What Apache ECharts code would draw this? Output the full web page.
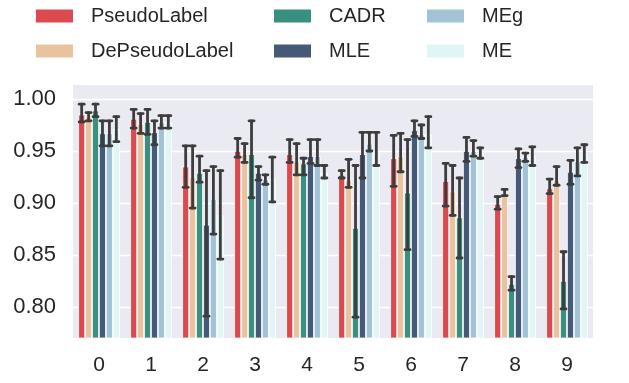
<!DOCTYPE html>
<html>
<head>
<meta charset="utf-8">
<script src="https://cdn.jsdelivr.net/npm/echarts@6/dist/echarts.min.js"></script>
<style>html,body{margin:0;padding:0;background:#fff}#c{width:629px;height:383px}</style>
</head>
<body>
<div id="c"></div>
<script>
const categories = ['0','1','2','3','4','5','6','7','8','9'];
const seriesNames = ['PseudoLabel','DePseudoLabel','CADR','MLE','MEg','ME'];
const colors = ['#DB4A4E','#E9C29F','#3A9080','#455A78','#A2C3D5','#E0F6F5'];

const pseudoLabel   = [0.985, 0.981, 0.935, 0.950, 0.947, 0.927, 0.943, 0.921, 0.899, 0.914];
const pseudoLabelLo = [0.978, 0.972, 0.915, 0.944, 0.939, 0.924, 0.916, 0.897, 0.894, 0.909];
const pseudoLabelHi = [0.995, 0.990, 0.955, 0.962, 0.961, 0.931, 0.965, 0.938, 0.906, 0.923];

const dePseudoLabel   = [0.983, 0.976, 0.925, 0.947, 0.940, 0.922, 0.945, 0.911, 0.909, 0.922];
const dePseudoLabelLo = [0.979, 0.967, 0.895, 0.939, 0.927, 0.915, 0.930, 0.888, 0.907, 0.917];
const dePseudoLabelHi = [0.987, 0.986, 0.955, 0.957, 0.957, 0.942, 0.967, 0.936, 0.913, 0.935];

const cadr   = [0.989, 0.978, 0.929, 0.947, 0.938, 0.876, 0.910, 0.886, 0.822, 0.825];
const cadrLo = [0.983, 0.966, 0.920, 0.905, 0.927, 0.790, 0.855, 0.847, 0.816, 0.798];
const cadrHi = [0.995, 0.990, 0.945, 0.979, 0.943, 0.936, 0.961, 0.924, 0.829, 0.853];

const mle   = [0.967, 0.968, 0.879, 0.929, 0.945, 0.947, 0.970, 0.950, 0.943, 0.930];
const mleLo = [0.955, 0.956, 0.791, 0.922, 0.938, 0.924, 0.964, 0.940, 0.934, 0.918];
const mleHi = [0.979, 0.979, 0.931, 0.935, 0.961, 0.968, 0.979, 0.963, 0.952, 0.941];

const meg   = [0.967, 0.978, 0.904, 0.923, 0.945, 0.957, 0.966, 0.950, 0.944, 0.940];
const megLo = [0.955, 0.972, 0.870, 0.918, 0.936, 0.950, 0.962, 0.945, 0.940, 0.926];
const megHi = [0.979, 0.984, 0.935, 0.927, 0.961, 0.968, 0.975, 0.960, 0.948, 0.953];

const me   = [0.971, 0.978, 0.888, 0.923, 0.929, 0.950, 0.966, 0.948, 0.945, 0.947];
const meLo = [0.959, 0.972, 0.846, 0.901, 0.924, 0.936, 0.953, 0.943, 0.936, 0.939];
const meHi = [0.983, 0.984, 0.931, 0.944, 0.936, 0.968, 0.983, 0.953, 0.954, 0.956];

const means = [pseudoLabel, dePseudoLabel, cadr, mle, meg, me];
const lows  = [pseudoLabelLo, dePseudoLabelLo, cadrLo, mleLo, megLo, meLo];
const highs = [pseudoLabelHi, dePseudoLabelHi, cadrHi, mleHi, megHi, meHi];

const errData = [];
for (let s = 0; s < 6; s++) {
  for (let c = 0; c < categories.length; c++) {
    errData.push([c, s, lows[s][c], highs[s][c]]);
  }
}

const FONT = '"Liberation Sans", Arial, sans-serif';
const NSER = 6;

const chart = echarts.init(document.getElementById('c'), null, {renderer: 'canvas'});

const barSeries = seriesNames.map((n, i) => ({
  name: n,
  type: 'bar',
  data: means[i],
  barGap: '0%',
  barCategoryGap: '20%',
  itemStyle: {color: colors[i], borderColor: '#ffffff', borderWidth: 0.8},
  emphasis: {disabled: true},
  z: 2
}));

function legendCol(left, names) {
  return {
    left: left, top: 6, orient: 'vertical', padding: 0,
    itemWidth: 39, itemHeight: 15, itemGap: 15, icon: 'rect',
    data: names,
    selectedMode: false,
    textStyle: {fontFamily: FONT, fontSize: 20, color: '#262626', lineHeight: 20, padding: [0, 0, 0, 12]}
  };
}

chart.setOption({
  animation: false,
  color: colors,
  legend: [
    legendCol(34, ['PseudoLabel', 'DePseudoLabel']),
    legendCol(272, ['CADR', 'MLE']),
    legendCol(425, ['MEg', 'ME'])
  ],
  grid: {left: 73, right: 36, top: 85, bottom: 45, show: true, backgroundColor: '#EAEAF2', borderWidth: 0, containLabel: false},
  xAxis: {
    type: 'category', data: categories,
    axisLine: {show: false}, axisTick: {show: false},
    splitLine: {show: false},
    axisLabel: {fontFamily: FONT, fontSize: 21, color: '#262626', margin: 17}
  },
  yAxis: {
    type: 'value', min: 0.77, max: 1.0135, splitNumber: 5,
    axisLine: {show: false}, axisTick: {show: false},
    splitLine: {show: true, showMinLine: false, showMaxLine: false, lineStyle: {color: '#ffffff', width: 1.3}},
    axisLabel: {fontFamily: FONT, fontSize: 22, color: '#262626', margin: 17, showMinLabel: false, showMaxLabel: false,
      formatter: v => v.toFixed(2)}
  },
  series: barSeries.concat([{
    type: 'custom',
    data: errData,
    z: 5,
    silent: true,
    encode: {x: 0, y: [2, 3]},
    renderItem: function (params, api) {
      const c = api.value(0), s = api.value(1), lo = api.value(2), hi = api.value(3);
      const band = api.size([1, 0])[0];
      const bw = band * 0.8 / NSER;
      const pLo = api.coord([c, lo]);
      const pHi = api.coord([c, hi]);
      const x = pLo[0] + (s - (NSER - 1) / 2) * bw;
      const half = 2.5;
      const st = {stroke: '#3d3d3d', lineWidth: 2.8, lineCap: 'round', fill: null};
      return {
        type: 'group',
        children: [
          {type: 'line', shape: {x1: x, y1: pLo[1], x2: x, y2: pHi[1]}, style: st},
          {type: 'line', shape: {x1: x - half, y1: pLo[1], x2: x + half, y2: pLo[1]}, style: st},
          {type: 'line', shape: {x1: x - half, y1: pHi[1], x2: x + half, y2: pHi[1]}, style: st}
        ]
      };
    }
  }])
});
</script>
</body>
</html>
